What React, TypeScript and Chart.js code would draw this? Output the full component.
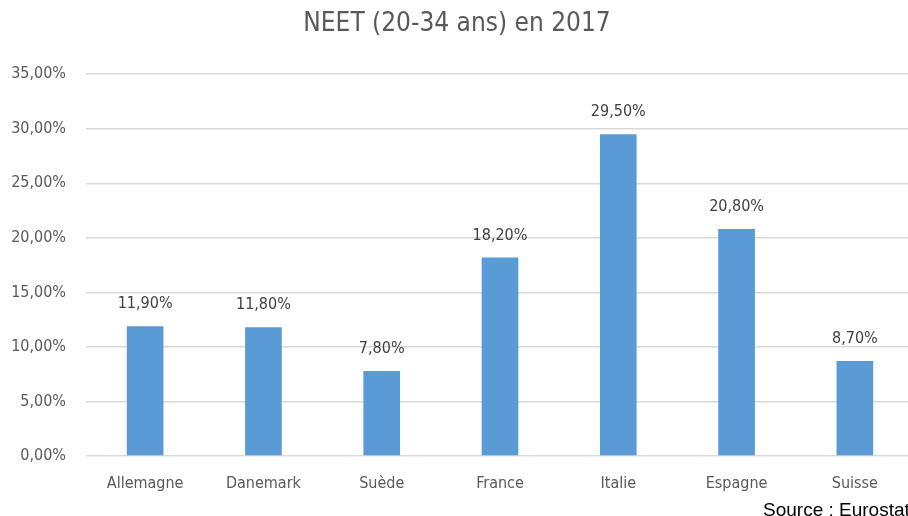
import React, { useEffect, useRef } from "react";
import { Chart, registerables } from "chart.js";

Chart.register(...registerables);

const categories = ["Allemagne", "Danemark", "Suède", "France", "Italie", "Espagne", "Suisse"];
const values = [11.9, 11.8, 7.8, 18.2, 29.5, 20.8, 8.7];
const yMax = 35;
const yStep = 5;
const titleText = "NEET (20-34 ans) en 2017";
const sourceText = "Source : Eurostat";

const fmt = (v: number) => v.toFixed(2).replace(".", ",") + "%";

const FONT = "'Liberation Sans Narrow', 'DejaVu Sans Condensed', 'Open Sans', sans-serif";

const labelPlugin = {
  id: "barLabels",
  afterDatasetsDraw(chart: any) {
    const ctx = chart.ctx;
    const meta = chart.getDatasetMeta(0);
    ctx.save();
    ctx.font = `16px ${FONT}`;
    ctx.fillStyle = "#404040";
    ctx.textAlign = "center";
    ctx.textBaseline = "middle";
    meta.data.forEach((bar: any, i: number) => {
      ctx.fillText(fmt(values[i]), bar.x, bar.y - 22);
    });
    ctx.restore();
  },
};

export default function App() {
  const ref = useRef<HTMLCanvasElement>(null);
  useEffect(() => {
    const chart = new Chart(ref.current!, {
      type: "bar",
      data: {
        labels: categories,
        datasets: [
          {
            data: values,
            backgroundColor: "#5B9BD5",
            categoryPercentage: 1,
            barPercentage: 0.31,
          },
        ],
      },
      options: {
        animation: false,
        responsive: false,
        maintainAspectRatio: false,
        layout: { padding: { left: 0, right: 0, top: 0, bottom: 0 } },
        plugins: {
          legend: { display: false },
          tooltip: { enabled: false },
          title: {
            display: true,
            text: titleText,
            color: "#595959",
            font: { family: FONT, size: 26, weight: "normal" },
            padding: { top: 9, bottom: 34 },
          },
        },
        scales: {
          x: {
            grid: { display: false, drawTicks: false },
            border: { display: false },
            ticks: {
              color: "#595959",
              font: { family: FONT, size: 16 },
              padding: 18,
            },
            afterFit(scale: any) {
              scale.height = 60;
            },
          },
          y: {
            min: 0,
            max: yMax,
            grid: { color: "#D9D9D9", lineWidth: 1.5, drawTicks: false },
            border: { display: false },
            ticks: {
              stepSize: yStep,
              color: "#595959",
              font: { family: FONT, size: 16 },
              padding: 20,
              callback: (v: any) => fmt(Number(v)),
            },
            afterFit(scale: any) {
              scale.width = 86;
            },
          },
        },
      },
      plugins: [labelPlugin],
    });
    return () => chart.destroy();
  }, []);
  return (
    <div
      style={{
        position: "fixed",
        left: 0,
        top: 0,
        width: 908,
        height: 516,
        overflow: "hidden",
        background: "#fff",
      }}
    >
      <canvas ref={ref} width={914} height={516} style={{ display: "block" }} />
      <div
        style={{
          position: "absolute",
          left: 763,
          top: 500,
          fontFamily: "'Liberation Sans', Arial, sans-serif",
          fontSize: 19,
          color: "#000",
          whiteSpace: "nowrap",
          lineHeight: "20px",
        }}
      >
        {sourceText}
      </div>
    </div>
  );
}
